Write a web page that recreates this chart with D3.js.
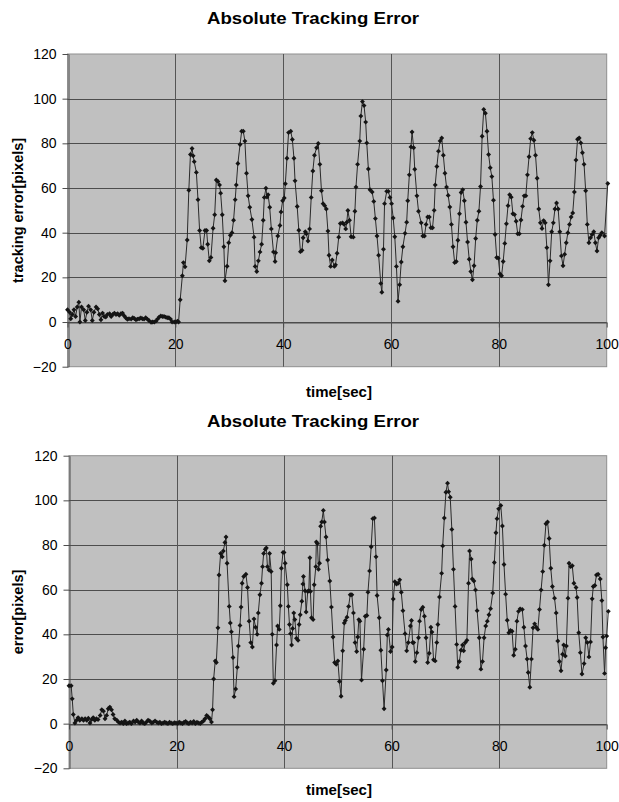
<!DOCTYPE html>
<html>
<head>
<meta charset="utf-8">
<script src="https://cdn.jsdelivr.net/npm/d3@7"></script>
<style>
  html, body { margin: 0; padding: 0; background: #fff; }
  svg { display: block; font-family: "Liberation Sans", Arial, sans-serif; }
</style>
</head>
<body>
<svg id="chart" width="619" height="802"></svg>
<script>
// tick values shared by both panels
const xTicks = [0, 20, 40, 60, 80, 100];
const yTicks = [-20, 0, 20, 40, 60, 80, 100, 120];

// upper panel: [time sec, error px]
const topSamples = [
  [0,5.5],[0.4,4.4],[0.6,1.5],[0.9,3.4],[1.2,5.5],[1.5,2.5],[1.8,6.7],[2.1,8.9],[2.3,0],[2.6,6.7],
  [3,5.5],[3.3,0.7],[3.6,4.4],[3.9,7.1],[4.3,5.5],[4.6,0.7],[4.9,4.4],[5.3,6.7],[5.6,5.9],[5.9,3.4],
  [6.2,1],[6.5,4],[6.8,2.5],[7.1,2.2],[7.4,3.4],[7.8,3.7],[8.1,2.5],[8.4,3.4],[8.7,4],[9,3.4],
  [9.3,3.7],[9.6,3],[9.9,3.7],[10.2,4],[10.5,2.8],[10.8,1.9],[11.1,1.2],[11.4,1.5],[11.8,1.3],[12.1,1.9],
  [12.4,1.6],[12.7,1],[13,1.3],[13.3,1.5],[13.6,1.8],[13.9,1.5],[14.2,1.3],[14.5,1.9],[14.8,1.3],[15.1,0.7],
  [15.5,-0.1],[15.8,0],[16.1,0],[16.4,0.4],[16.7,1.3],[17,2.2],[17.3,2.7],[17.6,2.5],[17.9,2.5],[18.2,2.2],
  [18.5,1.9],[18.8,1.9],[19.1,1.3],[19.4,0],[19.8,0],[20.1,0],[20.4,0.4],[20.6,0],
  [20.9,10],[21.3,20.7],[21.5,26.6],[21.8,24.7],[22.2,36.7],[22.5,59],[22.8,75],[23.1,77.7],[23.3,74.4],[23.5,71.8],
  [23.9,67],[24.2,54.8],[24.5,41],[24.8,33.3],[25.1,33],[25.5,41],[25.8,41],[26,34.8],[26.3,27.4],[26.6,28.9],
  [27,42],[27.3,48],[27.6,63.6],[27.9,62.9],[28.2,61.4],[28.4,57.7],[28.7,48],[29,33.7],[29.2,18.5],[29.6,25],
  [29.9,35.5],[30.2,38.8],[30.5,40],[30.8,45.6],[31.1,54.8],[31.3,61.4],[31.6,71],[32,79.5],[32.3,85.4],[32.6,85.4],
  [32.9,81],[33.2,66.6],[33.5,56.5],[33.8,51.4],[34.2,45.9],[34.6,38],[34.8,24.9],[35.1,22.6],[35.4,27.4],[35.7,31.4],
  [36,34.8],[36.3,45.6],[36.5,55.8],[36.8,59.9],[37,56],[37.2,57],[37.5,51.4],[37.8,41.7],[38.2,31.4],[38.5,27.1],
  [38.6,31],[39,38.5],[39.4,43.2],[39.6,49.3],[39.9,54.3],[40.2,55.5],[40.4,61.9],[40.7,73.3],[41,84.8],[41.4,85.4],
  [41.7,81.7],[42,73.3],[42.2,63.2],[42.6,51.7],[42.9,41.1],[43.2,31.5],[43.5,32.1],[43.7,37.7],[44.1,40.4],[44.3,39.5],
  [44.6,36.3],[44.9,41.7],[45.2,55.8],[45.5,67.6],[45.8,74.7],[46.2,78],[46.5,79.9],[46.8,70.6],[47.1,58.8],[47.4,53],
  [47.7,52.1],[48,50.6],[48.3,40.7],[48.5,29.9],[48.8,24.9],[49.1,27.8],[49.5,24.9],[49.7,25.6],[50,30.8],[50.3,38],
  [50.6,44.1],[51,44.4],[51.3,43.7],[51.6,41.7],[51.8,44.7],[52,49.9],[52.3,45.6],[52.6,38.2],[53,38],[53.3,49.6],
  [53.5,60.4],[53.8,70.6],[54.2,81],[54.4,92.2],[54.7,98.7],[55,96.9],[55.3,89.5],[55.5,80.2],[55.8,68.5],[56.1,59.2],
  [56.5,58.2],[56.8,54],[57.1,46.3],[57.4,38.5],[57.7,29.9],[58.1,17.3],[58.3,13.3],[58.6,32.6],[58.8,53],[59.2,58.5],
  [59.5,58.5],[59.8,55.8],[60.1,53],[60.4,46.6],[60.7,38.2],[61,24.9],[61.3,9.3],[61.6,16.7],[61.9,26.9],[62.2,33.7],
  [62.6,39.7],[62.9,44.7],[63.1,54.3],[63.4,65.9],[63.7,78.4],[63.9,85.1],[64.2,78],[64.4,68.4],[64.8,56.5],[65.1,49.6],
  [65.6,44.4],[65.9,38.5],[66.2,38.5],[66.5,43.7],[66.8,47],[67.1,47],[67.4,42.2],[67.7,42.2],[68,50],[68.2,61.4],
  [68.5,69.6],[68.8,76.5],[69.1,81.1],[69.4,82.4],[69.7,74.7],[70,66.6],[70.3,60.4],[70.6,56.7],[70.9,51.5],[71.2,43.7],
  [71.5,33.7],[71.8,26.6],[72.1,27.1],[72.4,36.6],[72.7,48.5],[73,58],[73.3,59.2],[73.6,54.3],[73.9,44.7],[74.2,35.8],
  [74.5,28.1],[74.8,22.6],[75.1,18.9],[75.4,25.2],[75.7,37.4],[76,45.6],[76.3,49.6],[76.6,60.7],[76.9,83.2],[77.2,95.2],
  [77.5,93.5],[77.8,85.4],[78.1,75],[78.4,69.1],[78.7,65.1],[79,54.5],[79.3,39.2],[79.6,28.9],[79.9,28.6],[80.2,21.5],
  [80.5,20.7],[80.8,27.1],[81.1,35.2],[81.4,44],[81.7,52.1],[82,57],[82.3,55.9],[82.6,48.5],[82.9,48.1],[83.2,45.1],
  [83.5,39.5],[83.8,39.5],[84.1,45.7],[84.4,51.8],[84.7,56.5],[85,56.5],[85.3,65.9],[85.6,74],[85.9,82.1],[86.2,84.8],
  [86.5,81.4],[86.8,74.7],[87.1,64.4],[87.4,50.6],[87.7,44.4],[88,41.9],[88.3,45.4],[88.6,44.4],[88.9,33.3],[89.2,16.7],
  [89.5,27.4],[89.8,40.4],[90.1,44.4],[90.4,50.6],[90.7,53.3],[91,50.6],[91.3,40.4],[91.6,29.6],[91.9,25.2],[92.2,30.3],
  [92.5,35.5],[92.8,40],[93.1,43.7],[93.4,47],[93.7,48.8],[94,58.2],[94.3,72.5],[94.6,81.8],[94.9,82.4],[95.2,80.2],
  [95.5,75.8],[95.8,70.6],[96.1,58.8],[96.4,43.7],[96.7,35.5],[97,37.7],[97.3,39.2],[97.6,40.4],[97.9,35.5],[98.2,31.8],
  [98.5,37.7],[98.8,38.8],[99.1,40],[99.6,38.5],[100.2,62]
];

// lower panel: [time sec, error px]
const bottomSamples = [
  [0,17],[0.4,17],[0.6,11.1],[0.8,4.1],[1.1,0.3],[1.4,1.5],[1.7,2.7],[2,1.5],[2.4,2.2],[2.7,1.5],
  [3,2.2],[3.3,1.5],[3.6,2.4],[3.9,0.3],[4.2,1.8],[4.5,2.7],[4.8,1.5],[5.1,2.2],[5.4,1.8],[5.8,3.7],
  [6.1,6.2],[6.4,5.6],[6.7,2.2],[7,3.7],[7.3,6.7],[7.6,7.4],[7.9,6.2],[8.2,4.1],[8.5,2.2],[8.9,1.5],
  [9.2,0.7],[9.5,0.3],[9.8,0.7],[10.1,0],[10.4,1.2],[10.7,0],[11,0.3],[11.3,0.7],[11.6,0],[12,1.2],
  [12.3,0.7],[12.6,1.5],[12.9,0.7],[13.2,0.3],[13.5,1.2],[13.8,0.3],[14.1,0],[14.4,0.7],[14.7,1.5],[15,1.2],
  [15.4,0.3],[15.7,0.7],[16,1.2],[16.3,0.7],[16.6,0.3],[16.9,0.6],[17.2,0],[17.5,0.3],[17.8,0.7],[18.1,0.3],
  [18.4,0],[18.7,0.6],[19,0.3],[19.3,0],[19.6,0.4],[19.9,0.3],[20.2,0],[20.5,0.7],[20.8,0.3],[21.1,0],
  [21.4,0.6],[21.7,1],[22,0.3],[22.3,0],[22.6,0.7],[22.9,0.3],[23.2,1],[23.5,0],[23.8,0.6],[24.1,0.3],
  [24.4,0],[24.7,0.7],[25,1.2],[25.3,2.2],[25.6,3.7],[25.9,3],[26.2,2.2],[26.5,0.7],
  [26.7,6.2],[26.9,20],[27.2,28.1],[27.4,27.4],[27.7,42.9],[27.9,66.6],[28.2,76.2],[28.5,74.7],[28.7,77.3],[29,81.1],
  [29.2,83.6],[29.4,71.8],[29.8,52.5],[30,45.1],[30.2,41.1],[30.5,29.6],[30.7,12.1],[31,15.5],[31.3,25.2],[31.5,34.8],
  [31.8,44],[32,52.2],[32.2,62.9],[32.5,65.9],[32.9,66.9],[33.2,61],[33.5,45.9],[33.8,36.3],[34.1,34.3],[34.4,46.9],
  [34.7,43.2],[35,40],[35.2,49.6],[35.5,57.7],[35.8,62.9],[36,70.3],[36.2,76.2],[36.5,78.1],[36.7,78.7],[36.9,70.3],
  [37.2,68.8],[37.3,76.2],[37.6,68.1],[37.8,40],[38,18.1],[38.3,19.2],[38.6,35.2],[38.8,43.7],[39.1,42.2],[39.3,52.8],
  [39.5,69.6],[39.8,76.7],[40,76.7],[40.2,71.8],[40.6,62.2],[40.8,52.5],[41,44.4],[41.2,40.3],[41.4,35.2],[41.6,42.6],
  [41.8,49.6],[42,46.6],[42.3,38.2],[42.6,37.3],[42.8,44.4],[43,48.8],[43.3,54.8],[43.5,62.5],[43.6,65.9],[43.9,59.5],
  [44.1,50],[44.4,59.2],[44.6,59.5],[44.8,74.3],[44.9,59.2],[45.1,47.4],[45.4,46.6],[45.6,62.2],[45.9,70.3],[46,81.4],
  [46.2,80.7],[46.4,69.1],[46.6,71.8],[46.8,88.4],[47,90.3],[47.3,95.5],[47.5,90.3],[47.8,83.6],[48.1,73.3],[48.5,63.9],
  [48.8,52.2],[49.1,38.8],[49.4,27.4],[49.7,26.6],[50,28.1],[50.3,18.9],[50.6,12.3],[50.9,32.6],[51.2,45.1],[51.4,46.2],
  [51.7,47.7],[52,52.5],[52.3,57.7],[52.6,57.7],[52.9,49.6],[53.2,36.3],[53.5,32.3],[53.7,38.8],[53.9,46.6],[54.1,45.9],
  [54.4,19.5],[54.8,33.3],[55.1,48.1],[55.4,48.4],[55.6,58.9],[55.9,68.4],[56.2,79.2],[56.5,91.8],[56.8,92.1],[57.1,74.7],
  [57.3,57.4],[57.7,47.4],[58,32.9],[58.3,19.2],[58.6,6.7],[59,24],[59.2,39.7],[59.4,42.2],[59.8,32.3],[60.1,34.3],
  [60.3,55.8],[60.6,63.6],[60.9,62.5],[61.2,62.9],[61.5,64.4],[61.8,58.8],[62.1,50.6],[62.5,40.3],[62.8,32.6],[63.1,36.3],
  [63.5,43.7],[63.7,46.2],[63.9,36.3],[64.1,36.3],[64.4,27.8],[64.7,31.8],[65,38.5],[65.2,45.9],[65.5,51.1],[65.8,52.1],
  [66.1,48.1],[66.4,38.5],[66.7,27.4],[67,31.5],[67.3,43.2],[67.5,41],[67.8,28.6],[68.1,28.1],[68.4,36.3],[68.6,44.4],
  [68.9,56.7],[69.3,67.3],[69.5,79.6],[69.8,92.1],[70.1,103.6],[70.4,107.7],[70.6,103.9],[70.9,101.4],[71.2,87],[71.5,69.1],
  [71.8,52.5],[72.1,35.5],[72.3,25.2],[72.6,27.8],[72.9,32.9],[73.2,35.2],[73.4,32.6],[73.7,36.3],[74,37.3],[74.3,62.9],
  [74.5,77.3],[74.8,73.7],[75,64.8],[75.3,63.9],[75.6,59.9],[75.9,50.6],[76.3,38.5],[76.6,24.4],[76.9,27.8],[77.2,38.5],
  [77.5,43.7],[77.8,45.9],[78.1,48.8],[78.4,51.5],[78.8,58.5],[79.1,72.2],[79.4,85.5],[79.6,91.8],[79.9,96.2],[80.3,97.7],
  [80.6,88.5],[80.9,71.3],[81.2,58],[81.5,46.3],[81.8,40.7],[82.1,41.7],[82.4,41.4],[82.7,30.6],[83,33.3],[83.3,45.9],
  [83.6,50.3],[83.9,51.4],[84.3,51.1],[84.6,43.2],[84.9,34.8],[85.2,28.9],[85.4,22.9],[85.7,16.3],[86,28.9],[86.3,42.9],
  [86.6,44.7],[86.9,43.2],[87.2,42.2],[87.5,51.1],[87.8,59.9],[88.1,68.1],[88.4,79.9],[88.7,89.5],[89,90.3],[89.3,82.9],
  [89.6,69.6],[89.9,61.4],[90.3,56.2],[90.6,49.6],[90.9,37],[91.2,27.8],[91.5,23.7],[91.8,31.1],[92,35.2],[92.3,30.3],
  [92.5,34.8],[92.8,56.2],[93,71.8],[93.3,70.3],[93.6,70.7],[93.9,62.9],[94.3,61],[94.5,56.5],[94.8,40.7],[95.1,31.8],
  [95.4,22.2],[95.8,26.9],[96.1,38.5],[96.4,36.3],[96.7,29.9],[97,36.6],[97.3,55.9],[97.5,61.4],[97.8,61.9],[98.1,66.6],
  [98.4,66.9],[98.8,64.8],[99.1,55.1],[99.3,38.8],[99.6,22.5],[99.8,34],[100,39.2],[100.3,50.3]
];

const panels = [
  { title: 'Absolute Tracking Error', yLabel: 'tracking error[pixels]', xLabel: 'time[sec]',
    samples: topSamples, box: { left: 67.5, right: 606.7, top: 54, bottom: 366.7 },
    titleY: 24, xLabelY: 397 },
  { title: 'Absolute Tracking Error', yLabel: 'error[pixels]', xLabel: 'time[sec]',
    samples: bottomSamples, box: { left: 69, right: 606.7, top: 455.7, bottom: 768.3 },
    titleY: 427, xLabelY: 795 }
];

const svg = d3.select('#chart');

function drawPanel(p) {
  const { left, right, top, bottom } = p.box;
  const x = d3.scaleLinear().domain([0, 100]).range([left, right]);
  const y = d3.scaleLinear().domain([-20, 120]).range([bottom, top]);
  const g = svg.append('g');

  // plot area
  g.append('rect')
    .attr('x', left).attr('y', top)
    .attr('width', right - left).attr('height', bottom - top)
    .attr('fill', '#c0c0c0')
    .attr('stroke', '#8f8f8f');

  // gridlines
  g.append('g').selectAll('line.h')
    .data(yTicks.filter(v => v > -20 && v < 120))
    .join('line')
    .attr('x1', left).attr('x2', right)
    .attr('y1', d => Math.round(y(d)) + 0.5).attr('y2', d => Math.round(y(d)) + 0.5)
    .attr('stroke', '#4d4d4d');

  g.append('g').selectAll('line.v')
    .data(xTicks.filter(v => v > 0 && v < 100))
    .join('line')
    .attr('y1', top).attr('y2', bottom)
    .attr('x1', d => Math.round(x(d)) + 0.5).attr('x2', d => Math.round(x(d)) + 0.5)
    .attr('stroke', '#555');

  // y axis
  const yAxis = g.append('g')
    .attr('transform', `translate(${Math.round(left) + 0.5},0)`)
    .call(d3.axisLeft(y).tickValues(yTicks).tickSize(6).tickSizeOuter(0).tickPadding(6));
  yAxis.select('.domain').attr('stroke', '#4d4d4d');
  yAxis.selectAll('.tick line').attr('stroke', '#4d4d4d');
  yAxis.selectAll('text')
    .attr('font-family', '"Liberation Sans", Arial, sans-serif')
    .attr('font-size', 14).attr('fill', '#000');

  // x axis sits on the zero line
  const xAxis = g.append('g')
    .attr('transform', `translate(0,${Math.round(y(0)) + 0.5})`)
    .call(d3.axisBottom(x).tickValues(xTicks).tickSize(5).tickSizeOuter(0).tickPadding(12));
  xAxis.select('.domain').attr('stroke', '#4d4d4d');
  xAxis.selectAll('.tick line').attr('stroke', '#4d4d4d');
  xAxis.selectAll('text')
    .attr('font-family', '"Liberation Sans", Arial, sans-serif')
    .attr('font-size', 14).attr('fill', '#000');

  // series
  const line = d3.line().x(d => x(d[0])).y(d => y(d[1]));
  g.append('path')
    .datum(p.samples)
    .attr('d', line)
    .attr('fill', 'none')
    .attr('stroke', '#2a2a2a')
    .attr('stroke-width', 1);

  const marker = d3.symbol().type(d3.symbolSquare).size(12);
  g.append('g').selectAll('path')
    .data(p.samples)
    .join('path')
    .attr('d', marker)
    .attr('transform', d => `translate(${x(d[0])},${y(d[1])}) rotate(45)`)
    .attr('fill', '#141414');

  // titles
  svg.append('text')
    .attr('x', 313).attr('y', p.titleY)
    .attr('text-anchor', 'middle')
    .attr('font-size', 17).attr('font-weight', 'bold')
    .attr('textLength', 212).attr('lengthAdjust', 'spacingAndGlyphs')
    .text(p.title);

  svg.append('text')
    .attr('x', 339).attr('y', p.xLabelY)
    .attr('text-anchor', 'middle')
    .attr('font-size', 15).attr('font-weight', 'bold')
    .text(p.xLabel);

  svg.append('text')
    .attr('transform', `translate(23,${(top + bottom) / 2}) rotate(-90)`)
    .attr('text-anchor', 'middle')
    .attr('font-size', 14.5).attr('font-weight', 'bold')
    .text(p.yLabel);
}

panels.forEach(drawPanel);
</script>
</body>
</html>
